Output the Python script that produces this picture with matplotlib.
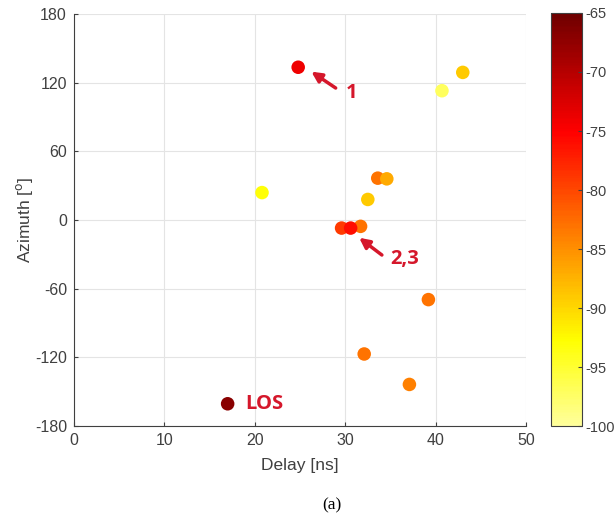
import matplotlib
matplotlib.use("Agg")
import matplotlib.pyplot as plt
import numpy as np
from matplotlib.colors import ListedColormap

plt.rcParams["axes.unicode_minus"] = False
plt.rcParams["font.family"] = ["Liberation Sans", "DejaVu Sans"]

# Datos de los caminos: retardo [ns], azimut [grados], potencia [dBm]
retardo = [17.0, 24.8, 43.0, 40.7, 20.8, 33.6, 34.6, 32.5, 29.6, 31.7, 30.6, 39.2, 32.1, 37.1]
azimut = [-160.5, 133.5, 129, 113, 24, 36.6, 36, 18, -7, -5.5, -7, -69.5, -117, -143.6]
potencia = [-67, -74, -89, -97, -93, -83, -87, -89, -79, -83, -76, -83, -83, -84]

xticks = [0, 10, 20, 30, 40, 50]
yticks = [-180, -120, -60, 0, 60, 120, 180]
cticks = [-100, -95, -90, -85, -80, -75, -70, -65]

# mapa "hot" recortado e invertido (amarillo claro -> rojo oscuro)
cmap = ListedColormap(plt.cm.hot(np.linspace(0.9, 0.15, 256)))

rojo = "#d5172b"
gris = "#404040"

fig = plt.figure(figsize=(6.16, 5.19), dpi=100)
ax = fig.add_axes([0.120, 0.179, 0.734, 0.794])
cax = fig.add_axes([0.894, 0.179, 0.050, 0.796])

sc = ax.scatter(retardo, azimut, c=potencia, cmap=cmap, vmin=-100, vmax=-65,
                s=95, edgecolors="none", zorder=3)

ax.set_xlim(0, 50)
ax.set_ylim(-180, 180)
ax.set_xticks(xticks)
ax.set_yticks(yticks)
ax.grid(True, color="#e4e4e4", linewidth=0.8)
ax.set_axisbelow(True)
for lado in ["top", "right"]:
    ax.spines[lado].set_visible(False)
for lado in ["left", "bottom"]:
    ax.spines[lado].set_color(gris)
ax.tick_params(direction="in", length=3, colors=gris, labelsize=11.5, pad=5)
ax.set_xlabel("Delay [ns]", fontsize=12.5, color=gris, labelpad=7)
ax.set_ylabel(r"Azimuth [$^{\mathrm{o}}$]", fontsize=12.5, color=gris, labelpad=0)

# anotaciones
flecha = dict(arrowstyle="-|>", color=rojo, lw=2.5, mutation_scale=15)
ax.annotate("", xy=(26.0, 131), xytext=(29.2, 114), arrowprops=flecha)
ax.text(30.1, 111, "1", color=rojo, fontsize=14.5, fontweight="bold",
        family="Open Sans", va="center", ha="left")
ax.annotate("", xy=(31.3, -14), xytext=(34.3, -32), arrowprops=flecha)
ax.text(35.0, -34, "2,3", color=rojo, fontsize=14.5, fontweight="bold",
        family="Open Sans", va="center", ha="left")
ax.text(18.9, -160.5, "LOS", color=rojo, fontsize=14.5, fontweight="bold",
        family="Open Sans", va="center", ha="left")

cb = fig.colorbar(sc, cax=cax, ticks=cticks)
cb.outline.set_edgecolor(gris)
cb.ax.tick_params(direction="in", length=3, colors=gris, labelsize=10.5, pad=3)

fig.text(0.539, 0.027, "(a)", family="Liberation Serif", fontsize=12.5,
         ha="center", va="center")

fig.savefig("out.png", dpi=100)
